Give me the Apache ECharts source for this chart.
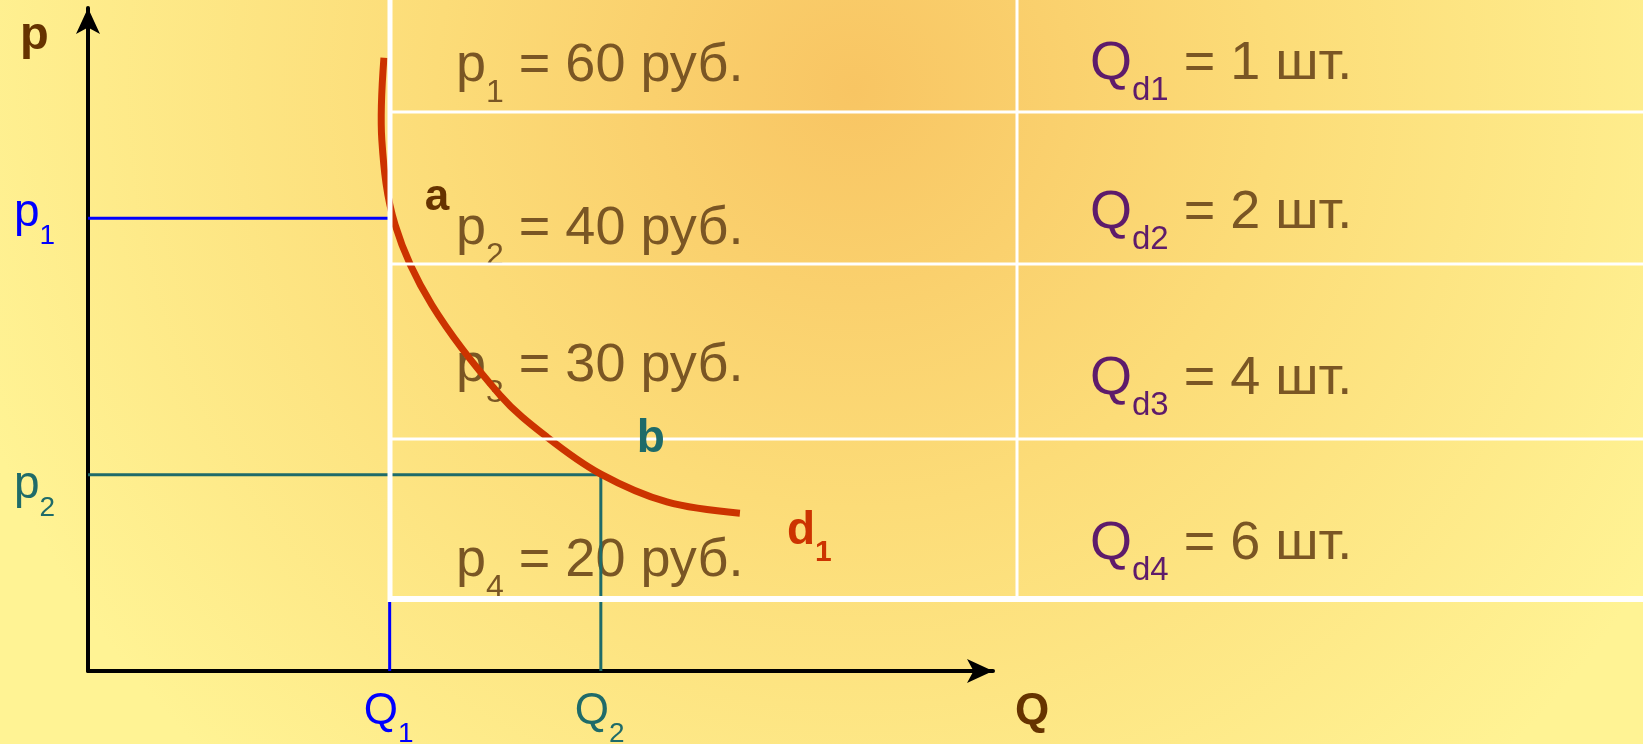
<!DOCTYPE html>
<html><head><meta charset="utf-8">
<script src="https://cdn.jsdelivr.net/npm/echarts@6/dist/echarts.min.js"></script>
<style>html,body{margin:0;padding:0;overflow:hidden;background:#fff}#c{width:1643px;height:744px}</style>
</head><body><div id="c"></div>
<script>
// ---------- data ----------
// demand curve d1 : quantity (x) and price (y) in chart units
const curveQ = [9.81, 9.74, 10.18, 11.40, 13.66, 15.21, 17.00, 19.19, 21.61];
const curveP = [92.5, 80.1, 67.3, 55.2, 41.6, 35.3, 29.7, 25.5, 23.8];
// guide points a (Q1,p1) and b (Q2,p2)
const guideQ = [10, 17];
const guideP = [68.3, 29.6];
const guideNames = ['1', '2'];
// table
const priceIdx = ['1', '2', '3', '4'];
const priceValues = [60, 40, 30, 20];
const qtyIdx = ['d1', 'd2', 'd3', 'd4'];
const qtyValues = [1, 2, 4, 6];

// ---------- styles / layout ----------
const FONT = '"Liberation Sans", Arial, sans-serif';
const BROWN = '#663300', TEXT = '#7a5624', PURPLE = '#5e1b6b';
const BLUE = '#0000ff', TEAL = '#1f6b69', RED = '#cc3300';
const tableLeft = 390, tableSplit = 1017, tableRight = 1643;
const rowLines = [112, 264, 439], tableBottom = 599;
const leftBase = [85, 248, 385, 580], rightBase = [83, 232, 398, 563];

const ctx = document.createElement('canvas').getContext('2d');
function fontStr(size, bold) { return (bold ? 'bold ' : '') + size + 'px ' + FONT; }
function tw(t, size, bold) { ctx.font = fontStr(size, bold); return ctx.measureText(t).width; }
function run(x, base, pieces, z) {
  const out = []; let cx = x;
  pieces.forEach(p => {
    out.push({
      type: 'text', x: cx, y: base + (p.dy || 0) - 0.3465 * p.size, z: z, silent: true,
      style: { text: p.text, font: fontStr(p.size, p.bold), fill: p.color,
        align: 'left', verticalAlign: 'middle', textAlign: 'left', textVerticalAlign: 'middle' }
    });
    cx += tw(p.text, p.size, p.bold);
  });
  return out;
}

const chart = echarts.init(document.getElementById('c'), null, { renderer: 'canvas' });
const axisCommon = {
  type: 'value', min: 0,
  axisLine: { show: true, symbol: ['none', 'arrow'], symbolSize: [18, 26], lineStyle: { color: '#000', width: 4 } },
  axisTick: { show: false }, axisLabel: { show: false }, splitLine: { show: false }
};
chart.setOption({
  animation: false,
  backgroundColor: { type: 'radial', x: 0.52, y: 0.12, r: 1.25,
    colorStops: [{ offset: 0, color: '#f8c563' }, { offset: 0.45, color: '#fcdc78' }, { offset: 1, color: '#fff394' }] },
  grid: { left: 88, right: 650, top: 8, bottom: 73 },
  xAxis: Object.assign({}, axisCommon, { max: 30 }),
  yAxis: Object.assign({}, axisCommon, { max: 100 }),
  series: [
    { type: 'line', z: 2, symbol: 'none', data: [[0, guideP[0]], [guideQ[0], guideP[0]], [guideQ[0], 0]],
      lineStyle: { color: BLUE, width: 3 } },
    { type: 'line', z: 2, symbol: 'none', data: [[0, guideP[1]], [guideQ[1], guideP[1]], [guideQ[1], 0]],
      lineStyle: { color: TEAL, width: 3 } },
    { type: 'custom', z: 3, silent: true, clip: false, data: [0],
      renderItem: function (params, api) {
        const pts = curveQ.map((q, i) => api.coord([q, curveP[i]]));
        return { type: 'polyline', shape: { points: pts, smooth: 0.35 },
          style: { stroke: RED, lineWidth: 7, fill: null, lineCap: 'butt' } };
      } }
  ]
});

const px = (q, p) => chart.convertToPixel({ gridIndex: 0 }, [q, p]);
const els = [];
// table text (under the curve)
priceValues.forEach((v, i) => {
  els.push(...run(456, leftBase[i], [
    { text: 'p', size: 54, color: TEXT },
    { text: priceIdx[i], size: 32, color: TEXT, dy: 19 },
    { text: ' = ' + v + ' руб.', size: 54, color: TEXT }
  ], 1));
});
qtyValues.forEach((v, i) => {
  els.push(...run(1090, rightBase[i], [
    { text: 'Q', size: 54, color: PURPLE },
    { text: qtyIdx[i], size: 33, color: PURPLE, dy: 19 },
    { text: ' = ' + v + ' шт.', size: 54, color: TEXT }
  ], 1));
});
// table lines (over the curve)
const W = '#ffffff';
els.push({ type: 'line', z: 10, silent: true, shape: { x1: tableLeft, y1: 0, x2: tableLeft, y2: tableBottom + 3 }, style: { stroke: W, lineWidth: 5 } });
els.push({ type: 'line', z: 10, silent: true, shape: { x1: tableSplit, y1: 0, x2: tableSplit, y2: tableBottom }, style: { stroke: W, lineWidth: 3 } });
rowLines.forEach(y => els.push({ type: 'line', z: 10, silent: true, shape: { x1: tableLeft, y1: y, x2: tableRight, y2: y }, style: { stroke: W, lineWidth: 3 } }));
els.push({ type: 'line', z: 10, silent: true, shape: { x1: tableLeft - 2, y1: tableBottom, x2: tableRight, y2: tableBottom }, style: { stroke: W, lineWidth: 6 } });

// axis titles
els.push(...run(20, 52, [{ text: 'p', size: 47, bold: true, color: BROWN }], 20));
els.push(...run(1015, 727, [{ text: 'Q', size: 44, bold: true, color: BROWN }], 20));
// guide labels
const colors = [BLUE, TEAL];
const yOff = [11, 26];
guideQ.forEach((q, i) => {
  const pp = px(0, guideP[i]);
  els.push(...run(14, pp[1] + yOff[i], [
    { text: 'p', size: 46, color: colors[i] },
    { text: guideNames[i], size: 28, color: colors[i], dy: 17 }
  ], 20));
  const qp = px(q, 0);
  els.push(...run(qp[0] - 26, 727, [
    { text: 'Q', size: 44, color: colors[i] },
    { text: guideNames[i], size: 28, color: colors[i], dy: 17 }
  ], 20));
});
// point labels a, b, d1
const a = px(guideQ[0], guideP[0]);
els.push(...run(a[0] + 35, a[1] - 5, [{ text: 'a', size: 44, bold: true, color: BROWN }], 20));
const b = px(guideQ[1], guideP[1]);
els.push(...run(b[0] + 36, b[1] - 20, [{ text: 'b', size: 46, bold: true, color: TEAL }], 20));
const e = px(curveQ[curveQ.length - 1], curveP[curveP.length - 1]);
els.push(...run(e[0] + 47, e[1] + 34, [
  { text: 'd', size: 46, bold: true, color: RED },
  { text: '1', size: 30, bold: true, color: RED, dy: 16 }
], 20));

chart.setOption({ graphic: { elements: els } });
</script></body></html>
